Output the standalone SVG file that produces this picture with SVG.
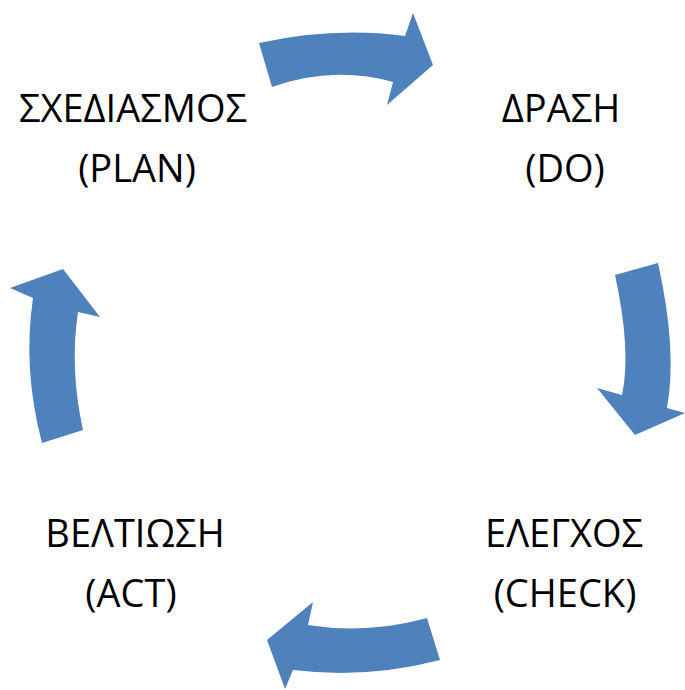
<svg xmlns="http://www.w3.org/2000/svg" width="685" height="690" viewBox="0 0 685 690">
<style>
.arrow{fill:#4F81BD;stroke:none}
.lbl{font-family:"Open Sans","Noto Sans","Liberation Sans",sans-serif;font-size:38px;fill:#000;text-anchor:middle}
</style>
<rect width="685" height="690" fill="#fff"/>
<g id="connectors">
<path class="arrow" d="M259,43 Q334,26.5 405,36 L413,13 L433,65 L387,105 L393,82 Q333.5,65.5 272,87 Z"/>
<path class="arrow" d="M615,275 L658,263 Q677.5,350.5 667,408 L685,413 L635,435 L597,388 L622,395 Q631.5,351 615,275 Z"/>
<path class="arrow" d="M440,660 L427,618 Q366.5,634.5 308,625 L313,602 L267,640 L285,689 L293,670 Q367.5,679 440,660 Z"/>
<path class="arrow" d="M42,443 L83,430 Q69.5,369 78,312 L100,317 L63,269 L10,288 L33,298 Q22.5,369.5 42,443 Z"/>
</g>
<g id="plan"><text class="lbl" x="133" y="122">ΣΧΕΔΙΑΣΜΟΣ</text><text class="lbl" x="137" y="182">(PLAN)</text></g>
<g id="do"><text class="lbl" x="561" y="122">ΔΡΑΣΗ</text><text class="lbl" x="565" y="182">(DO)</text></g>
<g id="check"><text class="lbl" x="564" y="547">ΕΛΕΓΧΟΣ</text><text class="lbl" x="565" y="607">(CHECK)</text></g>
<g id="act"><text class="lbl" x="135" y="547">ΒΕΛΤΙΩΣΗ</text><text class="lbl" x="131" y="607">(ACT)</text></g>
</svg>
